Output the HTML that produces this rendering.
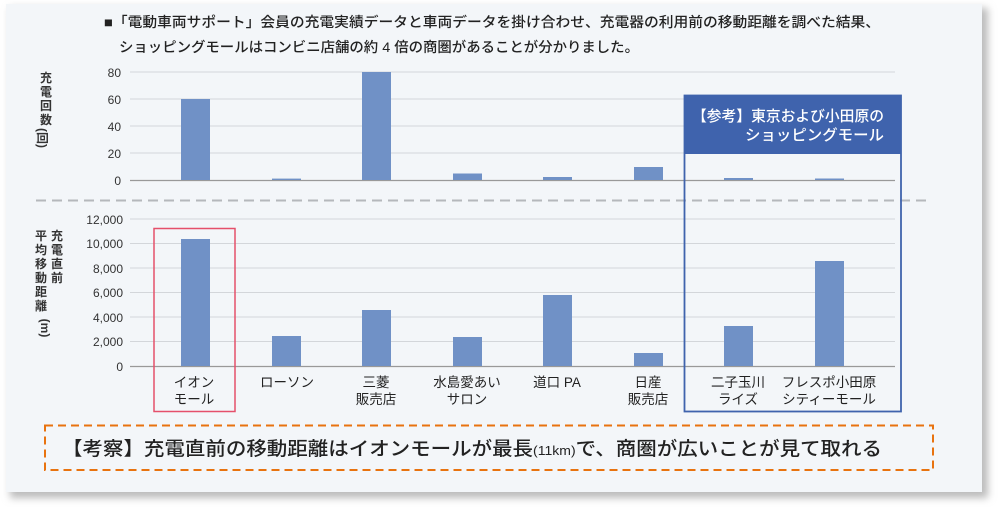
<!DOCTYPE html>
<html><head><meta charset="utf-8"><style>
body{margin:0;background:#fff;}
svg{display:block;font-family:"Liberation Sans","Noto Sans CJK JP",sans-serif;}
</style></head><body>
<svg width="1000" height="507" viewBox="0 0 1000 507" xmlns="http://www.w3.org/2000/svg">
<defs><filter id="sh" x="-5%" y="-5%" width="110%" height="115%"><feGaussianBlur stdDeviation="4"/></filter></defs>
<rect x="10" y="8" width="978" height="490" fill="#bbb" filter="url(#sh)"/>
<rect x="6" y="4" width="976" height="488" fill="#f3f6f9"/>
<g font-size="14" fill="#222" font-weight="500">
<text x="104" y="27" textLength="776" lengthAdjust="spacingAndGlyphs">■「電動車両サポート」会員の充電実績データと車両データを掛け合わせ、充電器の利用前の移動距離を調べた結果、</text>
<text x="119" y="52" textLength="520" lengthAdjust="spacingAndGlyphs">ショッピングモールはコンビニ店舗の約 4 倍の商圏があることが分かりました。</text>
</g>
<g stroke="#d3d6da" stroke-width="1">
<line x1="130" y1="72" x2="895" y2="72"/><line x1="130" y1="99" x2="895" y2="99"/><line x1="130" y1="126" x2="895" y2="126"/><line x1="130" y1="153" x2="895" y2="153"/>
<line x1="130" y1="219" x2="895" y2="219"/><line x1="130" y1="243.5" x2="895" y2="243.5"/><line x1="130" y1="268" x2="895" y2="268"/><line x1="130" y1="292.5" x2="895" y2="292.5"/><line x1="130" y1="317" x2="895" y2="317"/><line x1="130" y1="341.5" x2="895" y2="341.5"/>
</g>
<g stroke="#999" stroke-width="1.2"><line x1="130" y1="180.5" x2="895" y2="180.5"/><line x1="130" y1="366.5" x2="895" y2="366.5"/></g>
<line x1="36" y1="200.5" x2="932" y2="200.5" stroke="#b5b8bc" stroke-width="2" stroke-dasharray="10,6"/>
<g font-size="12" fill="#333" text-anchor="end">
<text x="121" y="77">80</text><text x="121" y="104">60</text><text x="121" y="131">40</text><text x="121" y="158">20</text><text x="121" y="185">0</text>
<text x="123" y="224">12,000</text><text x="123" y="248">10,000</text><text x="123" y="273">8,000</text><text x="123" y="297">6,000</text><text x="123" y="322">4,000</text><text x="123" y="346">2,000</text><text x="123" y="371">0</text>
</g>
<g font-size="12" font-weight="bold" fill="#333" text-anchor="middle">
<text x="46" y="82">充</text><text x="46" y="96">電</text><text x="46" y="110">回</text><text x="46" y="124">数</text>
<text x="46" y="138" transform="rotate(90 42 134)">(回)</text>
<text x="57" y="240">充</text><text x="57" y="254">電</text><text x="57" y="268">直</text><text x="57" y="282">前</text>
<text x="41" y="240">平</text><text x="41" y="254">均</text><text x="41" y="268">移</text><text x="41" y="282">動</text><text x="41" y="296">距</text><text x="41" y="310">離</text>
<text x="41" y="328" transform="rotate(90 41 328)">(m)</text>
</g>
<g fill="#7091c6">
<rect x="181" y="99" width="29" height="81"/>
<rect x="272" y="178.6" width="29" height="1.4"/>
<rect x="362" y="72" width="29" height="108"/>
<rect x="453" y="173.5" width="29" height="6.5"/>
<rect x="543" y="177" width="29" height="3"/>
<rect x="634" y="167" width="29" height="13"/>
<rect x="724" y="178" width="29" height="2"/>
<rect x="815" y="178.5" width="29" height="1.5"/>
<rect x="181" y="239" width="29" height="127"/>
<rect x="272" y="336" width="29" height="30"/>
<rect x="362" y="310" width="29" height="56"/>
<rect x="453" y="337" width="29" height="29"/>
<rect x="543" y="295" width="29" height="71"/>
<rect x="634" y="353" width="29" height="13"/>
<rect x="724" y="326" width="29" height="40"/>
<rect x="815" y="261" width="29" height="105"/>
</g>
<g font-size="13.5" fill="#222" text-anchor="middle">
<text x="194" y="387">イオン</text><text x="194" y="404">モール</text>
<text x="287" y="387">ローソン</text>
<text x="376" y="387">三菱</text><text x="376" y="404">販売店</text>
<text x="467" y="387">水島愛あい</text><text x="467" y="404">サロン</text>
<text x="557" y="387">道口 PA</text>
<text x="648" y="387">日産</text><text x="648" y="404">販売店</text>
<text x="738" y="387">二子玉川</text><text x="738" y="404">ライズ</text>
<text x="829" y="387">フレスポ小田原</text><text x="829" y="404">シティーモール</text>
</g>
<rect x="154" y="228.5" width="81" height="183" fill="none" stroke="#e5506b" stroke-width="1.5"/>
<rect x="684" y="95" width="217" height="59" fill="#3f63ad"/>
<rect x="684.5" y="95.5" width="216.5" height="316" fill="none" stroke="#3f63ad" stroke-width="1.8"/>
<g font-size="15" fill="#fff" font-weight="500"><text x="692" y="121" textLength="192" lengthAdjust="spacingAndGlyphs">【参考】東京および小田原の</text><text x="745" y="140" textLength="139" lengthAdjust="spacingAndGlyphs">ショッピングモール</text></g>
<rect x="45" y="425.5" width="888" height="44.5" fill="none" stroke="#e8730f" stroke-width="2" stroke-dasharray="8,5"/>
<text x="62" y="455" font-size="19" fill="#222" font-weight="500" textLength="820" lengthAdjust="spacingAndGlyphs">【考察】充電直前の移動距離はイオンモールが最長<tspan font-size="13">(11km)</tspan>で、商圏が広いことが見て取れる</text>
</svg>
</body></html>
